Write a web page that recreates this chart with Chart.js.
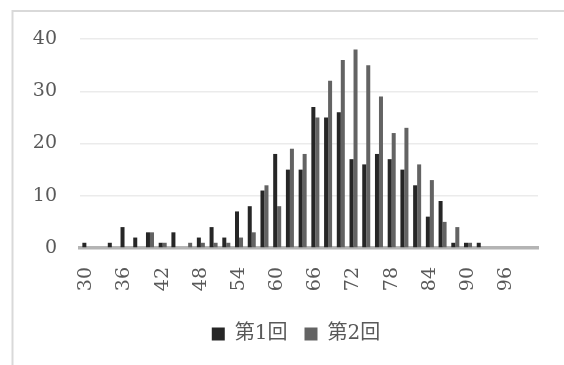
<!DOCTYPE html>
<html>
<head>
<meta charset="utf-8">
<script src="https://cdn.jsdelivr.net/npm/chart.js@4/dist/chart.umd.min.js"></script>
<style>
  html, body { margin: 0; padding: 0; background: #ffffff; }
  #wrap { width: 564px; height: 365px; position: relative; }
</style>
</head>
<body>
<div id="wrap"><canvas id="c" width="564" height="365"></canvas></div>
<script>
// Score bins (2-point steps) and the number of students in each bin
const scoreBins = [30, 32, 34, 36, 38, 40, 42, 44, 46, 48, 50, 52, 54, 56, 58, 60, 62, 64,
                   66, 68, 70, 72, 74, 76, 78, 80, 82, 84, 86, 88, 90, 92, 94, 96, 98, 100];
const round1 = [1, 0, 1, 4, 2, 3, 1, 3, 0, 2, 4, 2, 7, 8, 11, 18, 15, 15,
                27, 25, 26, 17, 16, 18, 17, 15, 12, 6, 9, 1, 1, 1, 0, 0, 0, 0];
const round2 = [0, 0, 0, 0, 0, 3, 1, 0, 1, 1, 1, 1, 2, 3, 12, 8, 19, 18,
                25, 32, 36, 38, 35, 29, 22, 23, 16, 13, 5, 4, 1, 0, 0, 0, 0, 0];
const seriesNames = ['第1回', '第2回'];
const countTicks = [0, 10, 20, 30, 40];
const labelEvery = 3;

const textColor = '#595959';
const fontFamily = "'DejaVu Serif', 'Noto Sans CJK JP', serif";

// Light frame around the chart, and the legend nudged to sit under the frame's centre
const framePlugin = {
  id: 'frame',
  afterLayout(chart) {
    const lg = chart.legend;
    if (lg) { lg.left += 17; lg.right += 17; }
  },
  beforeDraw(chart) {
    const ctx = chart.ctx;
    ctx.save();
    ctx.fillStyle = '#ffffff';
    ctx.fillRect(0, 0, chart.width, chart.height);
    ctx.strokeStyle = '#d9d9d9';
    ctx.lineWidth = 2;
    ctx.beginPath();
    ctx.moveTo(12.5, chart.height);
    ctx.lineTo(12.5, 11);
    ctx.lineTo(chart.width, 11);
    ctx.stroke();
    ctx.restore();
  }
};

new Chart(document.getElementById('c'), {
  type: 'bar',
  data: {
    labels: scoreBins.map(String),
    datasets: [
      { label: seriesNames[0], data: round1, backgroundColor: '#262626' },
      { label: seriesNames[1], data: round2, backgroundColor: '#636363' }
    ]
  },
  options: {
    responsive: false,
    animation: false,
    devicePixelRatio: 1,
    categoryPercentage: 0.63,
    barPercentage: 1.0,
    layout: { padding: { left: 20, right: 26, top: 39, bottom: 11 } },
    plugins: {
      tooltip: { enabled: false },
      legend: {
        position: 'bottom',
        labels: {
          color: textColor,
          font: { family: fontFamily, size: 20 },
          boxWidth: 13,
          boxHeight: 13,
          padding: 17
        }
      }
    },
    scales: {
      x: {
        grid: { display: false, drawTicks: false },
        border: { display: true, color: '#b4b4b4', width: 3.5 },
        afterFit(scale) {
          scale.height = 59;
          // the plot edges are set by the layout padding alone
          scale.paddingLeft = 0;
          scale.paddingRight = 0;
        },
        ticks: {
          autoSkip: false,
          maxRotation: 90,
          minRotation: 90,
          padding: 19,
          color: textColor,
          font: { family: fontFamily, size: 19 },
          callback(value, index) {
            return index % labelEvery === 0 ? this.getLabelForValue(value) : '';
          }
        }
      },
      y: {
        min: countTicks[0],
        max: countTicks[countTicks.length - 1],
        afterFit(scale) { scale.width = 60; },
        afterBuildTicks(scale) { scale.ticks = countTicks.map(v => ({ value: v })); },
        border: { display: false },
        grid: { color: '#ebebeb', lineWidth: 1.5, drawTicks: false },
        ticks: {
          padding: 23,
          color: textColor,
          font: { family: fontFamily, size: 19 }
        }
      }
    }
  },
  plugins: [framePlugin]
});
</script>
</body>
</html>
